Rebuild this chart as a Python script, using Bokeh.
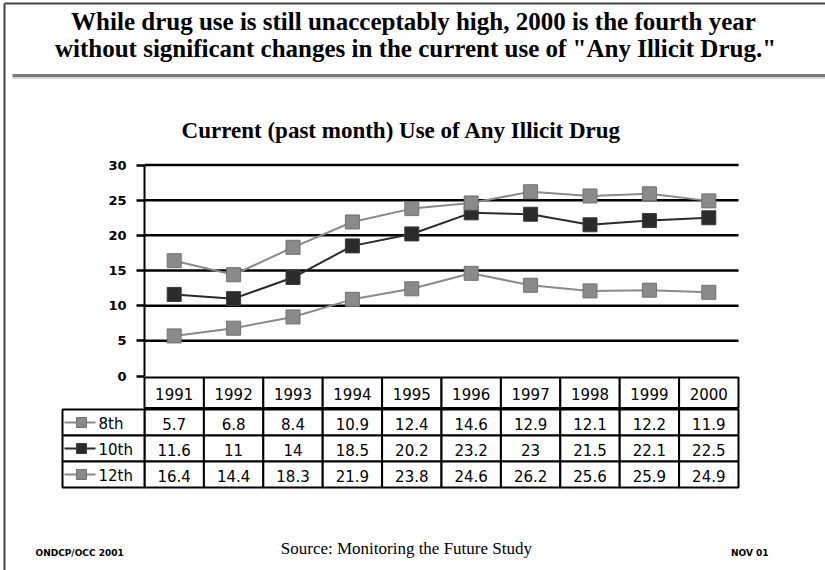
from bokeh.plotting import figure
from bokeh.models import Range1d, LinearAxis, FixedTicker
from bokeh.core.properties import value
from bokeh.embed import file_html
from bokeh.resources import INLINE

# ---------------- data ----------------
YEARS = [1991, 1992, 1993, 1994, 1995, 1996, 1997, 1998, 1999, 2000]
YEAR_LABELS = [str(y) for y in YEARS]
GRADES = ["8th", "10th", "12th"]
USE_8TH = [5.7, 6.8, 8.4, 10.9, 12.4, 14.6, 12.9, 12.1, 12.2, 11.9]
USE_10TH = [11.6, 11, 14, 18.5, 20.2, 23.2, 23, 21.5, 22.1, 22.5]
USE_12TH = [16.4, 14.4, 18.3, 21.9, 23.8, 24.6, 26.2, 25.6, 25.9, 24.9]
Y_TICKS = [0, 5, 10, 15, 20, 25, 30]

TITLE_1 = "While drug use is still unacceptably high, 2000 is the fourth year"
TITLE_2 = "without significant changes in the current use of \"Any Illicit Drug.\""
CHART_TITLE = "Current (past month) Use of Any Illicit Drug"
SOURCE = "Source:  Monitoring the Future Study"
FOOT_LEFT = "ONDCP/OCC 2001"
FOOT_RIGHT = "NOV 01"

# ---------------- layout ----------------
W, H = 825, 570
COL_LEFT_PX = 144.0     # page x of the left edge of the first year column
COL_W_PX = 59.4         # width of one year column
ZERO_PX = 375.5         # page y of value 0
UNIT_PX = 7.033         # pixels per percentage point

x_start = YEARS[0] - 0.5 - COL_LEFT_PX / COL_W_PX
x_end = YEARS[0] - 0.5 + (W - COL_LEFT_PX) / COL_W_PX
y_end = ZERO_PX / UNIT_PX
y_start = -(H - ZERO_PX) / UNIT_PX

GRAY = "#8a8a8a"
DARK = "#2b2b2b"
SERIES = [
    ("8th", USE_8TH, GRAY, GRAY),
    ("10th", USE_10TH, DARK, DARK),
    ("12th", USE_12TH, GRAY, GRAY),
]

p = figure(width=W, height=H, x_range=Range1d(x_start, x_end),
           y_range=Range1d(y_start, y_end), output_backend="svg",
           toolbar_location=None, min_border=0,
           x_axis_type=None, y_axis_type=None)
p.outline_line_color = None
p.background_fill_color = "white"
p.border_fill_color = "white"
p.extra_x_ranges = {"page": Range1d(0, W)}
p.extra_y_ranges = {"page": Range1d(H, 0)}

# slide frame (left and top edges)
p.segment(x0=[4, 4], y0=[3, 3], x1=[4, W], y1=[H, 3], line_color="#444444",
          line_width=2, x_range_name="page", y_range_name="page")
# separator under the headline
p.segment(x0=[12], y0=[75], x1=[W], y1=[75], line_color="#7a7a7a",
          line_width=3, x_range_name="page", y_range_name="page")
p.segment(x0=[12], y0=[77.5], x1=[W], y1=[77.5], line_color="#c8c8c8",
          line_width=1.5, x_range_name="page", y_range_name="page")

serif_bold = dict(text_font=value("Liberation Serif"), text_font_style="bold",
                  text_align="center", text_baseline="middle", text_color="black")
p.text(x=[413], y=[21], text=[TITLE_1], text_font_size="25px",
       x_range_name="page", y_range_name="page", **serif_bold)
p.text(x=[415], y=[48], text=[TITLE_2], text_font_size="25px",
       x_range_name="page", y_range_name="page", **serif_bold)
p.text(x=[401], y=[130], text=[CHART_TITLE], text_font_size="23px",
       x_range_name="page", y_range_name="page", **serif_bold)

# horizontal gridlines (from the tick values)
grid_ticks = [t for t in Y_TICKS if t > 0]
p.segment(x0=[YEARS[0] - 0.5] * len(grid_ticks), x1=[YEARS[-1] + 0.5] * len(grid_ticks),
          y0=grid_ticks, y1=grid_ticks, line_color="black", line_width=2.5)

# y axis placed at the left edge of the first column
yax = LinearAxis(fixed_location=YEARS[0] - 0.5, ticker=FixedTicker(ticks=Y_TICKS),
                 bounds=(0, 30))
yax.axis_line_color = "black"
yax.axis_line_width = 2
yax.major_tick_out = 8
yax.major_tick_in = 0
yax.major_tick_line_width = 2.5
yax.minor_tick_line_color = None
yax.major_label_text_font = "DejaVu Sans"
yax.major_label_text_font_style = "bold"
yax.major_label_text_font_size = "13px"
yax.major_label_standoff = 10
yax.major_label_text_color = "black"
p.add_layout(yax, "left")

# series
for name, vals, lc, fc in SERIES:
    p.line(YEARS, vals, line_color=lc, line_width=2)
    p.scatter(YEARS, vals, marker="square", size=14, fill_color=fc,
              line_color="#3a3a3a" if fc == DARK else "#707070", line_width=1)

# ---------------- data table ----------------
HEAD_TOP, HEAD_BOT = 377.0, 407.5
ROW_TOP, ROW_H = 409.0, 26.0
LABEL_LEFT = 62.0

p.rect(x=YEARS, y=[(HEAD_TOP + HEAD_BOT) / 2] * len(YEARS), width=1,
       height=HEAD_BOT - HEAD_TOP, y_range_name="page", fill_color="white",
       line_color="black", line_width=2)
tbl_font = dict(text_font=value("DejaVu Sans"), text_font_size="15px",
                text_baseline="middle", text_color="black")
p.text(x=YEARS, y=[(HEAD_TOP + HEAD_BOT) / 2 + 1] * len(YEARS), text=YEAR_LABELS,
       y_range_name="page", text_align="center", **tbl_font)

for i, (name, vals, lc, fc) in enumerate(SERIES):
    yc = ROW_TOP + ROW_H * i + ROW_H / 2
    p.rect(x=YEARS, y=[yc] * len(YEARS), width=1, height=ROW_H, y_range_name="page",
           fill_color="white", line_color="black", line_width=2)
    p.rect(x=[(LABEL_LEFT + COL_LEFT_PX) / 2], y=[yc], width=COL_LEFT_PX - LABEL_LEFT,
           height=ROW_H, x_range_name="page", y_range_name="page",
           fill_color="white", line_color="black", line_width=2)
    p.text(x=YEARS, y=[yc + 1] * len(YEARS), text=[f"{v:g}" for v in vals],
           y_range_name="page", text_align="center", **tbl_font)
    # legend key
    p.segment(x0=[LABEL_LEFT + 2], y0=[yc], x1=[LABEL_LEFT + 33], y1=[yc],
              line_color=lc, line_width=2, x_range_name="page", y_range_name="page")
    p.scatter(x=[LABEL_LEFT + 19], y=[yc], marker="square", size=10, fill_color=fc,
              line_color="#3a3a3a" if fc == DARK else "#707070",
              x_range_name="page", y_range_name="page")
    p.text(x=[LABEL_LEFT + 36], y=[yc + 1], text=[name], x_range_name="page",
           y_range_name="page", text_align="left", **tbl_font)

# ---------------- footer ----------------
p.text(x=[408], y=[548], text=[SOURCE], text_font=value("Liberation Serif"),
       text_font_size="17px", text_align="center", text_baseline="middle",
       x_range_name="page", y_range_name="page")
p.text(x=[35], y=[552], text=[FOOT_LEFT], text_font=value("DejaVu Sans"),
       text_font_style="bold", text_font_size="9px", text_align="left",
       text_baseline="middle", x_range_name="page", y_range_name="page")
p.text(x=[768], y=[552], text=[FOOT_RIGHT], text_font=value("DejaVu Sans"),
       text_font_style="bold", text_font_size="9px", text_align="right",
       text_baseline="middle", x_range_name="page", y_range_name="page")

open("out.html", "w").write(file_html(p, INLINE))
